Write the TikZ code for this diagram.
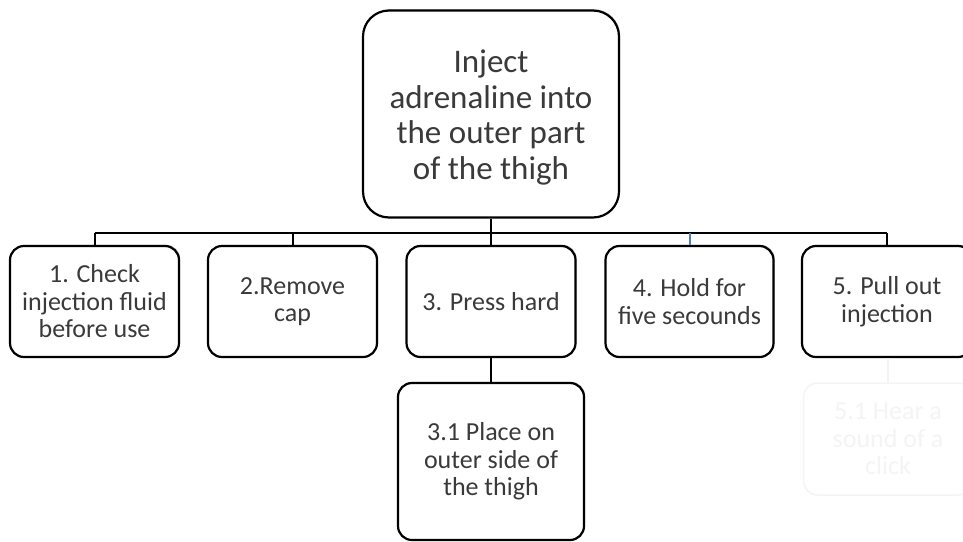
\documentclass[tikz,border=0pt]{standalone}
\usepackage{fontspec}
\setmainfont{Carlito}
\usetikzlibrary{shadows}
\definecolor{txt}{HTML}{3A3A3A}
\definecolor{faint}{HTML}{F4F4F4}
\definecolor{linkblue}{HTML}{4F7FB8}
\tikzset{
  box/.style={draw=black, line width=2.2pt, rounded corners=14pt, fill=white,
    text=txt, align=center, inner sep=0pt,
    drop shadow={shadow xshift=1.2pt, shadow yshift=1.2pt, fill=black!35, opacity=0.6},
    font=\fontsize{26}{27.5}\selectfont},
  topbox/.style={box, rounded corners=26pt, font=\fontsize{33}{35.5}\selectfont},
  ghost/.style={draw=faint, line width=1.5pt, rounded corners=14pt, fill=white,
    text=faint, align=center, inner sep=0pt,
    font=\fontsize{26}{27.5}\selectfont},
  link/.style={draw=black, line width=2pt},
  ghostlink/.style={draw=faint, line width=1.5pt}
}
\begin{document}
\begin{tikzpicture}[x=1pt,y=-1pt]
  \useasboundingbox (0,0) rectangle (963,541);
  \clip (0,0) rectangle (963,541);

  % junction row of the tree
  \coordinate (bar) at (0,233);

  % root step (text set a little below the centre)
  \node[topbox, minimum width=256pt, minimum height=207pt] (top) at (491,114)
    {\parbox{250pt}{\centering\vspace*{7pt}Inject\\adrenaline into\\the outer part\\of the thigh}};

  % first-level steps
  \node[box, minimum width=169pt, minimum height=111pt] (s1) at (94.5,301.5)
    {1. Check\\injection fluid\\before use};
  \node[box, minimum width=169pt, minimum height=111pt] (s2) at (292.5,301.5)
    {2.Remove\\cap};
  \node[box, minimum width=169pt, minimum height=111pt] (s3) at (491,301.5)
    {3. Press hard};
  \node[box, minimum width=168pt, minimum height=111pt] (s4) at (689.5,301.5)
    {4. Hold for\\five secounds};
  \node[box, minimum width=170pt, minimum height=111pt] (s5) at (887,301.5)
    {5. Pull out\\injection};

  % sub-steps
  \node[box, minimum width=186pt, minimum height=157pt] (s31) at (491,461.5)
    {3.1 Place on\\outer side of\\the thigh};
  \node[ghost, minimum width=169pt, minimum height=112pt] (s51) at (888,439)
    {5.1 Hear a\\sound of a\\click};

  % connectors
  \draw[link] (top.south) -- (s3.north);
  \draw[link] (s1.north |- bar) -- (s5.north |- bar);
  \draw[link] (s1.north) -- (s1.north |- bar);
  \draw[link] (s2.north) -- (s2.north |- bar);
  \draw[link] (s5.north) -- (s5.north |- bar);
  \draw[draw=linkblue, line width=2pt] (s4.north) -- (s4.north |- bar);
  \draw[link] (s3.south) -- (s31.north);
  \draw[ghostlink] (s5.south -| s51.north) -- (s51.north);
\end{tikzpicture}
\end{document}
